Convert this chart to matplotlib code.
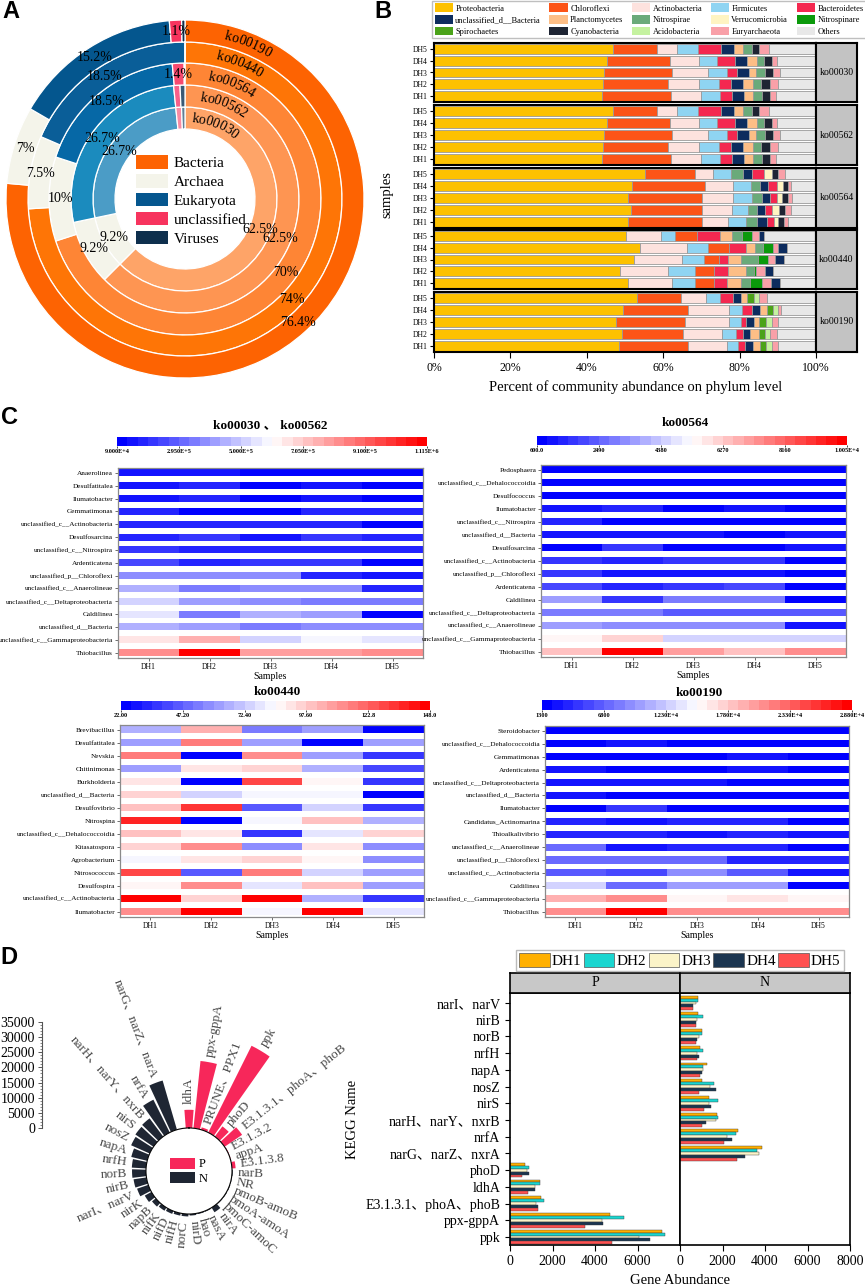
import numpy as np
import matplotlib
matplotlib.use('Agg')
import matplotlib.pyplot as plt
from matplotlib.patches import Patch
from matplotlib.colors import LinearSegmentedColormap, Normalize
from matplotlib.ticker import MultipleLocator
import matplotlib.cm as cm

plt.rcParams['font.family'] = ['Liberation Serif', 'Noto Sans CJK SC']

# ---------------- DATA ----------------
# Panel A (percent of domain per pathway), inner ring -> outer ring
domainsA = ["Bacteria", "Archaea", "Eukaryota", "unclassified", "Viruses"]
ringsA = ["ko00030", "ko00562", "ko00564", "ko00440", "ko00190"]
pctA_ko00030 = [62.5, 9.2, 26.7, 1.0, 0.6]
pctA_ko00562 = [62.5, 9.2, 26.7, 0.9, 0.7]
pctA_ko00564 = [70.0, 10.0, 18.5, 1.4, 0.1]
pctA_ko00440 = [74.0, 7.5, 18.5, 0.0, 0.0]
pctA_ko00190 = [76.4, 7.0, 15.2, 1.1, 0.3]

# Panel B (phylum % per sample, samples DH1..DH5)
samples = ["DH1", "DH2", "DH3", "DH4", "DH5"]
order_ko00030 = ["Proteobacteria", "Chloroflexi", "Actinobacteria", "Firmicutes", "Bacteroidetes",
                 "unclassified_d__Bacteria", "Planctomycetes", "Nitrospirae", "Cyanobacteria",
                 "Euryarchaeota", "Others"]
B_ko00030 = [[44.0, 18.0, 8.0, 4.8, 3.3, 3.1, 2.2, 2.4, 2.1, 1.6, 10.5],
             [44.3, 16.9, 8.3, 5.2, 3.1, 3.2, 2.6, 2.1, 2.2, 2.1, 10.0],
             [44.4, 18.0, 9.2, 5.0, 2.8, 3.0, 1.9, 2.3, 2.2, 1.7, 9.5],
             [45.2, 16.5, 7.6, 4.9, 4.7, 3.1, 2.6, 1.8, 2.2, 1.2, 10.2],
             [46.8, 11.6, 5.3, 5.5, 5.9, 3.4, 2.4, 2.3, 2.0, 2.4, 12.4]]
order_ko00562 = order_ko00030
B_ko00562 = [[44.0, 18.0, 8.0, 4.8, 3.3, 3.1, 2.2, 2.4, 2.1, 1.6, 10.5],
             [44.3, 16.9, 8.3, 5.2, 3.1, 3.2, 2.6, 2.1, 2.2, 2.1, 10.0],
             [44.4, 18.0, 9.2, 5.0, 2.8, 3.0, 1.9, 2.3, 2.2, 1.7, 9.5],
             [45.2, 16.5, 7.6, 4.9, 4.7, 3.1, 2.6, 1.8, 2.2, 1.2, 10.2],
             [46.8, 11.6, 5.3, 5.5, 5.9, 3.4, 2.4, 2.3, 2.0, 2.4, 12.4]]
order_ko00564 = ["Proteobacteria", "Chloroflexi", "Actinobacteria", "Firmicutes", "Nitrospirae",
                 "unclassified_d__Bacteria", "Bacteroidetes", "Verrucomicrobia", "Cyanobacteria",
                 "Euryarchaeota", "Others"]
B_ko00564 = [[50.7, 19.5, 6.7, 4.9, 2.7, 2.6, 1.8, 1.1, 1.5, 1.2, 7.3],
             [51.7, 18.5, 7.7, 4.4, 2.2, 2.1, 1.8, 1.8, 1.7, 1.5, 6.6],
             [50.7, 19.5, 8.2, 4.9, 2.5, 2.2, 1.8, 1.3, 1.5, 1.1, 6.3],
             [51.9, 19.1, 7.3, 4.7, 2.3, 2.1, 2.4, 1.5, 1.5, 0.7, 6.5],
             [55.3, 13.1, 4.6, 4.8, 3.1, 2.4, 3.0, 2.3, 1.4, 2.0, 8.0]]
order_ko00440 = ["Proteobacteria", "Actinobacteria", "Firmicutes", "Chloroflexi", "Bacteroidetes",
                 "Planctomycetes", "Nitrospirae", "Nitrospinare", "Euryarchaeota",
                 "unclassified_d__Bacteria", "Others"]
B_ko00440 = [[50.7, 11.7, 6.0, 5.0, 3.2, 3.7, 2.3, 3.3, 2.4, 2.2, 9.5],
             [48.6, 12.6, 7.1, 4.9, 3.8, 4.7, 2.1, 0.6, 2.3, 2.1, 11.2],
             [52.3, 12.5, 6.0, 3.9, 2.2, 3.4, 4.6, 2.6, 1.7, 2.5, 8.3],
             [53.8, 12.4, 5.4, 5.5, 4.6, 2.4, 2.0, 2.6, 1.3, 2.4, 7.6],
             [50.3, 9.2, 3.6, 5.7, 6.1, 3.1, 2.6, 2.6, 2.0, 1.3, 13.5]]
order_ko00190 = ["Proteobacteria", "Chloroflexi", "Actinobacteria", "Firmicutes", "Bacteroidetes",
                 "unclassified_d__Bacteria", "Planctomycetes", "Spirochaetes", "Acidobacteria",
                 "Euryarchaeota", "Others"]
B_ko00190 = [[48.3, 18.3, 10.1, 3.0, 1.8, 2.0, 1.8, 1.6, 1.7, 1.4, 10.0],
             [49.1, 16.2, 10.2, 3.6, 1.7, 2.0, 2.3, 1.6, 1.3, 1.8, 10.2],
             [47.7, 17.9, 11.5, 3.2, 1.3, 2.1, 1.5, 1.7, 1.7, 1.4, 10.0],
             [49.6, 17.0, 10.7, 3.4, 2.6, 2.1, 1.8, 1.5, 1.3, 0.9, 9.1],
             [53.1, 11.5, 6.6, 3.6, 3.5, 2.1, 1.5, 1.8, 1.3, 2.3, 12.7]]
legend_B = ["Proteobacteria", "Chloroflexi", "Actinobacteria", "Firmicutes", "Bacteroidetes",
            "unclassified_d__Bacteria", "Planctomycetes", "Nitrospirae", "Verrucomicrobia", "Nitrospinare",
            "Spirochaetes", "Cyanobacteria", "Acidobacteria", "Euryarchaeota", "Others"]

# Panel C heatmaps (rows top->bottom, columns DH1..DH5)
rows_hm1 = ["Anaerolinea", "Desulfatitalea", "Ilumatobacter", "Gemmatimonas",
            "unclassified_c__Actinobacteria", "Desulfosarcina", "unclassified_c__Nitrospira",
            "Ardenticatena", "unclassified_p__Chloroflexi", "unclassified_c__Anaerolineae",
            "unclassified_c__Deltaproteobacteria", "Caldilinea", "unclassified_d__Bacteria",
            "unclassified_c__Gammaproteobacteria", "Thiobacillus"]
hm1 = [[141000, 141000, 110000, 110000, 110000],
       [141000, 172000, 110000, 131000, 110000],
       [141000, 192000, 110000, 141000, 110000],
       [162000, 100000, 110000, 162000, 162000],
       [162000, 162000, 192000, 192000, 110000],
       [192000, 213000, 131000, 213000, 192000],
       [213000, 172000, 172000, 172000, 172000],
       [244000, 192000, 213000, 213000, 110000],
       [367000, 367000, 367000, 192000, 141000],
       [459000, 336000, 397000, 367000, 162000],
       [520000, 418000, 377000, 346000, 346000],
       [551000, 336000, 459000, 418000, 110000],
       [459000, 428000, 346000, 377000, 367000],
       [664000, 746000, 520000, 572000, 551000],
       [808000, 1110000, 797000, 797000, 838000]]
rows_hm2 = ["Pedosphaera", "unclassified_c__Dehalococcoidia", "Desulfococcus", "Ilumatobacter",
            "unclassified_c__Nitrospira", "unclassified_d__Bacteria", "Desulfosarcina",
            "unclassified_c__Actinobacteria", "unclassified_p__Chloroflexi", "Ardenticatena",
            "Caldilinea", "unclassified_c__Deltaproteobacteria", "unclassified_c__Anaerolineae",
            "unclassified_c__Gammaproteobacteria", "Thiobacillus"]
hm2 = [[700, 700, 700, 700, 700],
       [790, 700, 700, 700, 700],
       [790, 790, 790, 790, 790],
       [1070, 1360, 790, 1170, 790],
       [1260, 880, 790, 880, 880],
       [1070, 980, 980, 790, 980],
       [790, 1545, 790, 790, 1070],
       [1545, 1260, 1545, 1545, 790],
       [1545, 1070, 1070, 980, 880],
       [2110, 1360, 1730, 1920, 790],
       [3435, 1830, 2960, 2960, 790],
       [2960, 2960, 2400, 2400, 2400],
       [3530, 3250, 3250, 3250, 1170],
       [5610, 6180, 4660, 4660, 4660],
       [6460, 10000, 6930, 6460, 7215]]
rows_hm3 = ["Brevibacillus", "Desulfatitalea", "Nevskia", "Chitinimonas", "Burkholderia",
            "unclassified_d__Bacteria", "Desulfovibrio", "Nitrospina", "unclassified_c__Dehalococcoidia",
            "Kitasatospora", "Agrobacterium", "Nitrosococcus", "Desulfospira",
            "unclassified_c__Actinobacteria", "Ilumatobacter"]
hm3 = [[66.1, 103.9, 53.5, 63.6, 24.5],
       [61.1, 116.5, 63.6, 24.5, 61.1],
       [117.8, 23.3, 114.0, 63.6, 35.9],
       [61.1, 92.6, 96.3, 67.4, 39.6],
       [92.6, 23.3, 127.8, 87.5, 35.9],
       [95.1, 73.7, 81.2, 81.2, 24.5],
       [100.1, 134.1, 43.4, 73.7, 38.4],
       [137.9, 23.3, 82.5, 100.1, 66.1],
       [100.1, 91.3, 38.4, 77.4, 96.3],
       [96.3, 114.0, 56.0, 91.3, 56.0],
       [82.5, 91.3, 95.1, 88.8, 57.3],
       [127.8, 45.9, 117.8, 73.7, 59.8],
       [87.5, 110.2, 77.4, 100.1, 63.6],
       [145.5, 95.1, 145.5, 67.4, 35.9],
       [110.2, 148.0, 82.5, 148.0, 77.4]]
rows_hm4 = ["Steroidobacter", "unclassified_c__Dehalococcoidia", "Gemmatimonas", "Ardenticatena",
            "unclassified_c__Deltaproteobacteria", "unclassified_d__Bacteria", "Ilumatobacter",
            "Candidatus_Actinomarina", "Thioalkalivibrio", "unclassified_c__Anaerolineae",
            "unclassified_p__Chloroflexi", "unclassified_c__Actinobacteria", "Caldilinea",
            "unclassified_c__Gammaproteobacteria", "Thiobacillus"]
hm4 = [[1575, 1575, 1575, 1575, 1575],
       [1850, 2400, 1850, 1850, 1850],
       [1850, 1850, 1850, 2400, 1850],
       [2400, 1850, 1850, 2675, 1850],
       [2675, 2675, 2675, 1850, 1850],
       [2675, 1850, 1850, 1850, 1850],
       [2125, 4050, 1850, 2125, 1850],
       [3225, 2675, 3500, 3500, 1850],
       [3225, 3225, 2675, 3225, 2675],
       [7075, 2675, 3500, 3500, 1850],
       [7350, 7350, 7350, 3500, 3500],
       [5975, 5425, 9275, 5975, 2675],
       [12575, 7625, 10375, 10375, 1850],
       [19450, 21375, 15600, 16700, 15325],
       [20550, 28800, 20550, 20550, 20550]]
cb_labels1 = ["9.000E+4", "2.950E+5", "5.000E+5", "7.050E+5", "9.100E+5", "1.115E+6"]
cb_labels2 = ["600.0", "2490", "4380", "6270", "8160", "1.005E+4"]
cb_labels3 = ["22.00", "47.20", "72.40", "97.60", "122.8", "148.0"]
cb_labels4 = ["1300", "6800", "1.230E+4", "1.780E+4", "2.330E+4", "2.880E+4"]

# Panel D polar (total gene abundance), clockwise from top
polar_genes = ["ldhA", "ppx-gppA", "PRUNE、PPX1", "ppk", "phoD", "E3.1.3.1、phoA、phoB", "E3.1.3.2",
               "appA", "E3.1.3.8", "narB", "NR", "pmoB-amoB", "pmoA-amoA", "pmoC-amoC", "nirA",
               "nasA", "hao", "nirD", "norC", "nifH", "nifD", "nifK", "napB", "nirK", "narI、narV",
               "nirB", "norB", "nrfH", "napA", "nosZ", "nirS", "narH、narY、nxrB", "nrfA",
               "narG、narZ、narA"]
polar_type = ["P"] * 9 + ["N"] * 25
polar_values = [6000, 22300, 800, 32000, 4200, 7000, 200, 150, 1200, 250, 150, 200, 200, 200, 1800,
                250, 300, 500, 800, 800, 1000, 1200, 1600, 2500, 3900, 4300, 4600, 4700, 5400, 6700,
                7200, 7500, 12100, 16900]

# Panel D bars (top -> bottom)
bar_genes = ["narI、narV", "nirB", "norB", "nrfH", "napA", "nosZ", "nirS", "narH、narY、nxrB", "nrfA",
             "narG、narZ、nxrA", "phoD", "ldhA", "E3.1.3.1、phoA、phoB", "ppx-gppA", "ppk"]
bar_type = ["N"] * 10 + ["P"] * 5
abund_DH1 = [830, 830, 1020, 940, 1250, 1050, 1380, 1760, 2710, 3860, 720, 1400, 1450, 4700, 7140]
abund_DH2 = [830, 1070, 1020, 1070, 1070, 1620, 1800, 1770, 2620, 3610, 900, 1430, 1600, 5360, 7310]
abund_DH3 = [750, 820, 880, 780, 1070, 1410, 1380, 1690, 2200, 3700, 820, 1160, 1210, 4310, 6090]
abund_DH4 = [600, 740, 780, 910, 1020, 1680, 1440, 1220, 2460, 3060, 880, 1180, 1300, 4390, 6590]
abund_DH5 = [630, 740, 740, 780, 940, 890, 1130, 1040, 2050, 2700, 580, 850, 1320, 3550, 4780]

# ---------------- FIGURE ----------------
W, H = 865, 1287
fig = plt.figure(figsize=(W / 100, H / 100), dpi=100)


def box(x0, y0, x1, y1):
    return [x0 / W, 1 - y1 / H, (x1 - x0) / W, (y1 - y0) / H]


def ftext(x, y, s, **kw):
    return fig.text(x / W, 1 - y / H, s, **kw)


for letter, (lx, ly) in {"A": (11, 12), "B": (383, 11), "C": (9, 417), "D": (9, 958)}.items():
    ftext(lx, ly, letter, fontsize=17, fontweight='bold', family='Liberation Sans',
          ha='center', va='center')

# ---------------- Panel A ----------------
axA = fig.add_axes(box(6, 20, 364, 378))
R = 179.0
r_out = [92, 114, 136, 157, 179]
r_in = [70, 92, 114, 136, 157]
ring_vals = [pctA_ko00030, pctA_ko00562, pctA_ko00564, pctA_ko00440, pctA_ko00190]
ring_cols = [['#FEA468', '#F4F4EA', '#4B9CC6', '#F98BA3', '#5F7F96'],
             ['#FE9552', '#F4F4EA', '#1B8BBE', '#F7608A', '#3A5A75'],
             ['#FE8535', '#F4F4EA', '#0668A6', '#F74A70', '#1E3D5C'],
             ['#FE7506', '#F4F4EA', '#0A5E98', '#F73A62', '#0E2F4D'],
             ['#FD6302', '#F4F4EA', '#04568E', '#F7345E', '#0E2F4D']]
for vals, cols, ro, ri, name in zip(ring_vals, ring_cols, r_out, r_in, ringsA):
    axA.pie(vals, radius=ro / R, colors=cols, startangle=90, counterclock=False,
            wedgeprops=dict(width=(ro - ri) / R, edgecolor='white', linewidth=0.9))
    rm = (ro + ri) / 2 / R
    cum = np.cumsum(vals)
    for v, c in zip(vals, cum):
        if v > 1.05:
            ang = np.deg2rad(90 - 3.6 * (c - v / 2))
            axA.text(rm * np.cos(ang), rm * np.sin(ang), f"{v:g}%", fontsize=10,
                     ha='center', va='center')
    # curved ring label
    step = 6.95 / ((ro + ri) / 2)
    n = len(name)
    for k, ch in enumerate(name):
        a = np.deg2rad(68) - (k - (n - 1) / 2) * step
        axA.text(rm * np.cos(a), rm * np.sin(a), ch, fontsize=10, ha='center', va='center',
                 rotation=np.degrees(a) - 90)
axA.set_xlim(-1, 1)
axA.set_ylim(-1, 1)
axA.set_aspect('equal')
axA.axis('off')
legA_cols = ['#FD6302', '#F4F4EA', '#05568E', '#F7345E', '#0E2F4D']
axA.legend([Patch(facecolor=c) for c in legA_cols], domainsA, loc='upper left',
           bbox_to_anchor=(136 / W, 1 - 155 / H), bbox_transform=fig.transFigure, frameon=False,
           fontsize=11, handlelength=2.1, handleheight=1.0, handletextpad=0.35, labelspacing=0.25,
           borderpad=0, borderaxespad=0)

# ---------------- Panel B ----------------
phy_col = {"Proteobacteria": "#FDC100", "Chloroflexi": "#FC5417", "Actinobacteria": "#FDE2DE",
           "Firmicutes": "#8FD4F2", "Bacteroidetes": "#F42850", "unclassified_d__Bacteria": "#0D2C5E",
           "Planctomycetes": "#FDBE86", "Nitrospirae": "#6AAA7A", "Verrucomicrobia": "#FFF4C2",
           "Nitrospinare": "#0B9A0B", "Spirochaetes": "#4BA319", "Cyanobacteria": "#1E2433",
           "Acidobacteria": "#C5F2A0", "Euryarchaeota": "#F9A0A8", "Others": "#E8E8E8"}
groups = [("ko00030", order_ko00030, B_ko00030), ("ko00562", order_ko00562, B_ko00562),
          ("ko00564", order_ko00564, B_ko00564), ("ko00440", order_ko00440, B_ko00440),
          ("ko00190", order_ko00190, B_ko00190)]
gboxes = [(43, 102), (105, 165), (168, 228), (230, 289), (292, 352)]
for gi, ((gname, order, vals), (y0, y1)) in enumerate(zip(groups, gboxes)):
    ax = fig.add_axes(box(434, y0, 816, y1))
    arr = np.array(vals)
    lefts = np.cumsum(arr, axis=1) - arr
    ypos = np.arange(5)
    for si, ph in enumerate(order):
        ax.barh(ypos, arr[:, si], left=lefts[:, si], height=0.84, color=phy_col[ph],
                edgecolor='#9A9A9A', linewidth=0.6)
    ax.set_xlim(0, 100)
    ax.set_ylim(-0.5, 4.5)
    ax.set_yticks(ypos)
    ax.set_yticklabels(samples, fontsize=5.5)
    ax.tick_params(axis='y', length=3, width=0.8, pad=1.5)
    for sp in ax.spines.values():
        sp.set_linewidth(1.5)
    if gi < 4:
        ax.set_xticks([])
    else:
        ax.set_xticks([0, 20, 40, 60, 80, 100])
        ax.set_xticklabels(["0%", "20%", "40%", "60%", "80%", "100%"], fontsize=8.5)
        ax.tick_params(axis='x', length=4, width=0.8, pad=3)
    st = fig.add_axes(box(816, y0, 857, y1))
    st.set_facecolor('#C3C3C3')
    st.set_xticks([])
    st.set_yticks([])
    for sp in st.spines.values():
        sp.set_linewidth(1.5)
    st.text(0.5, 0.5, gname, fontsize=7, ha='center', va='center', transform=st.transAxes)
ftext(387, 195, "samples", rotation=90, fontsize=10.5, ha='center', va='center')
ftext(636, 387, "Percent of community abundance on phylum level", fontsize=10.5,
      ha='center', va='center')
# legend column-major order for ncol=5
lorder = [legend_B[r * 5 + c] for c in range(5) for r in range(3)]
fig.legend([Patch(facecolor=phy_col[n], edgecolor='none') for n in lorder], lorder, ncol=5,
           loc='upper left', bbox_to_anchor=(432 / W, 1 - 35 / H, (866 - 432) / W, 34 / H),
           mode='expand', fontsize=6, frameon=True, fancybox=False, edgecolor='#B0B0B0',
           handlelength=2.2, handleheight=1.2, handletextpad=0.3, labelspacing=0.3,
           borderpad=0.3, borderaxespad=0, columnspacing=0.5)

# ---------------- Panel C ----------------
cmap = LinearSegmentedColormap.from_list('bwr30', ['#0000FF', '#FFFFFF', '#FF0000'], N=30)


def heatmap(axb, cbb, title, txy, rows, vals, vmin, vmax, cblabels):
    ax = fig.add_axes(box(*axb))
    norm = Normalize(vmin, vmax)
    arr = np.array(vals, dtype=float)
    yy = np.arange(len(rows))
    for j in range(arr.shape[1]):
        ax.barh(yy, 1.0, left=j, height=0.55, color=cmap(norm(arr[:, j])), linewidth=0)
    ax.set_xlim(0, 5)
    ax.set_ylim(len(rows) - 0.58, -0.38)
    ax.set_yticks(yy)
    ax.set_yticklabels(rows, fontsize=5.2)
    ax.set_xticks(np.arange(5) + 0.5)
    ax.set_xticklabels(samples, fontsize=5.5)
    ax.tick_params(length=2, width=0.6, pad=1.5, color='#555555')
    for sp in ax.spines.values():
        sp.set_color('#8A8A8A')
        sp.set_linewidth(0.9)
    ax.set_xlabel("Samples", fontsize=7, labelpad=1)
    cax = fig.add_axes(box(*cbb))
    cb = fig.colorbar(cm.ScalarMappable(norm=norm, cmap=cmap), cax=cax, orientation='horizontal')
    cb.set_ticks(np.linspace(vmin, vmax, 6))
    cb.set_ticklabels(cblabels)
    cb.ax.tick_params(labelsize=4.5, length=1.5, width=0.5, pad=1)
    for t in cb.ax.get_xticklabels():
        t.set_fontweight('bold')
    cb.outline.set_visible(False)
    ftext(txy[0], txy[1], title, fontsize=9.5, fontweight='bold', ha='center', va='center')


heatmap((118, 468, 423, 658), (117, 437, 427, 446), "ko00030 、 ko00562", (270, 425),
        rows_hm1, hm1, 90000, 1115000, cb_labels1)
heatmap((541, 465, 846, 657), (537, 436, 847, 445), "ko00564", (685, 423),
        rows_hm2, hm2, 600, 10050, cb_labels2)
heatmap((120, 725, 424, 917), (121, 701, 430, 710), "ko00440", (277, 692),
        rows_hm3, hm3, 22, 148, cb_labels3)
heatmap((545, 726, 849, 917), (542, 700, 852, 710), "ko00190", (699, 693),
        rows_hm4, hm4, 1300, 28800, cb_labels4)

# ---------------- Panel D polar ----------------
cx, cy, rpx = 189, 1171, 160
axP = fig.add_axes(box(cx - rpx, cy - rpx, cx + rpx, cy + rpx), projection='polar')
npol = len(polar_genes)
nslots = npol + 1  # one empty slot between the last and first bar
theta = np.arange(npol) * 2 * np.pi / nslots
pcols = ['#F7275A' if t == 'P' else '#1F2633' for t in polar_type]
axP.bar(theta, polar_values, width=2 * np.pi / nslots * 0.84, bottom=0, color=pcols,
        edgecolor='none')
axP.set_theta_zero_location('N')
axP.set_theta_direction(-1)
axP.set_rorigin(-14200)
axP.set_ylim(0, 38600)
axP.grid(False)
axP.set_xticks([])
axP.set_yticks([])
axP.spines['polar'].set_visible(False)
axP.patch.set_visible(False)
for th, g, v in zip(theta, polar_genes, polar_values):
    d = np.degrees(th)
    if d <= 180.5:
        rot, ha = 90 - d, 'left'
    else:
        rot, ha = 270 - d, 'right'
    axP.text(th, v + 1800, g, rotation=rot, rotation_mode='anchor', ha=ha, va='center',
             fontsize=9.5, color='#4A4A4A')
axP.legend([Patch(facecolor='#F7275A'), Patch(facecolor='#1F2633')], ['P', 'N'], loc='center',
           frameon=False, fontsize=9, handlelength=2.0, handleheight=1.0, handletextpad=0.3,
           labelspacing=0.1, borderpad=0)

axR = fig.add_axes(box(42, 1022, 43, 1128))
axR.set_ylim(0, 35000)
axR.set_xticks([])
axR.set_yticks(np.arange(0, 35001, 5000))
axR.yaxis.set_minor_locator(MultipleLocator(1000))
axR.tick_params(axis='y', labelsize=10, length=3, width=0.7, pad=2, color='#555555')
axR.tick_params(axis='y', which='minor', length=1.5, width=0.5, color='#555555')
for s in ['top', 'right', 'bottom']:
    axR.spines[s].set_visible(False)
axR.spines['left'].set_color('#555555')
axR.patch.set_visible(False)

# ---------------- Panel D bars ----------------
dh_cols = ['#FFB000', '#1AD6D0', '#FBF3C8', '#1B3550', '#FF5050']
abund = [abund_DH1, abund_DH2, abund_DH3, abund_DH4, abund_DH5]
yb = np.arange(len(bar_genes))
for fi, (ftype, x0, x1) in enumerate([("P", 510, 680), ("N", 680, 850)]):
    ax = fig.add_axes(box(x0, 993, x1, 1245))
    mask = np.array([t == ftype for t in bar_type])
    for k in range(5):
        ax.barh(yb[mask] + (k - 2) * 0.175, np.array(abund[k])[mask], height=0.175,
                color=dh_cols[k], edgecolor='#3A3A3A', linewidth=0.3)
    ax.set_xlim(0, 8000)
    ax.set_ylim(len(bar_genes) - 0.52, -0.6)
    ax.set_yticks(yb)
    if fi == 0:
        ax.set_yticklabels(bar_genes, fontsize=10)
        ax.set_xticks([0, 2000, 4000, 6000])
    else:
        ax.set_yticklabels([])
        ax.tick_params(axis='y', length=0)
        ax.set_xticks([0, 2000, 4000, 6000, 8000])
    ax.tick_params(axis='x', labelsize=10, length=4, width=0.8)
    ax.tick_params(axis='y', width=0.8)
    for sp in ax.spines.values():
        sp.set_linewidth(1.2)
    st = fig.add_axes(box(x0, 973, x1, 993))
    st.set_facecolor('#C8C8C8')
    st.set_xticks([])
    st.set_yticks([])
    for sp in st.spines.values():
        sp.set_linewidth(1.2)
    st.text(0.5, 0.5, ftype, fontsize=10, ha='center', va='center', transform=st.transAxes)
ftext(352, 1119, "KEGG Name", rotation=90, fontsize=10.5, ha='center', va='center')
ftext(680, 1281, "Gene Abundance", fontsize=10.5, ha='center', va='center')
fig.legend([Patch(facecolor=c, edgecolor='#555555', linewidth=0.5) for c in dh_cols], samples,
           ncol=5, loc='upper left', bbox_to_anchor=(516 / W, 1 - 950 / H), fontsize=11,
           frameon=True, fancybox=False, edgecolor='#AAAAAA', handlelength=2.0, handleheight=1.0,
           handletextpad=0.15, columnspacing=0.15, borderpad=0.2, borderaxespad=0)

fig.savefig("out.png", dpi=100)
